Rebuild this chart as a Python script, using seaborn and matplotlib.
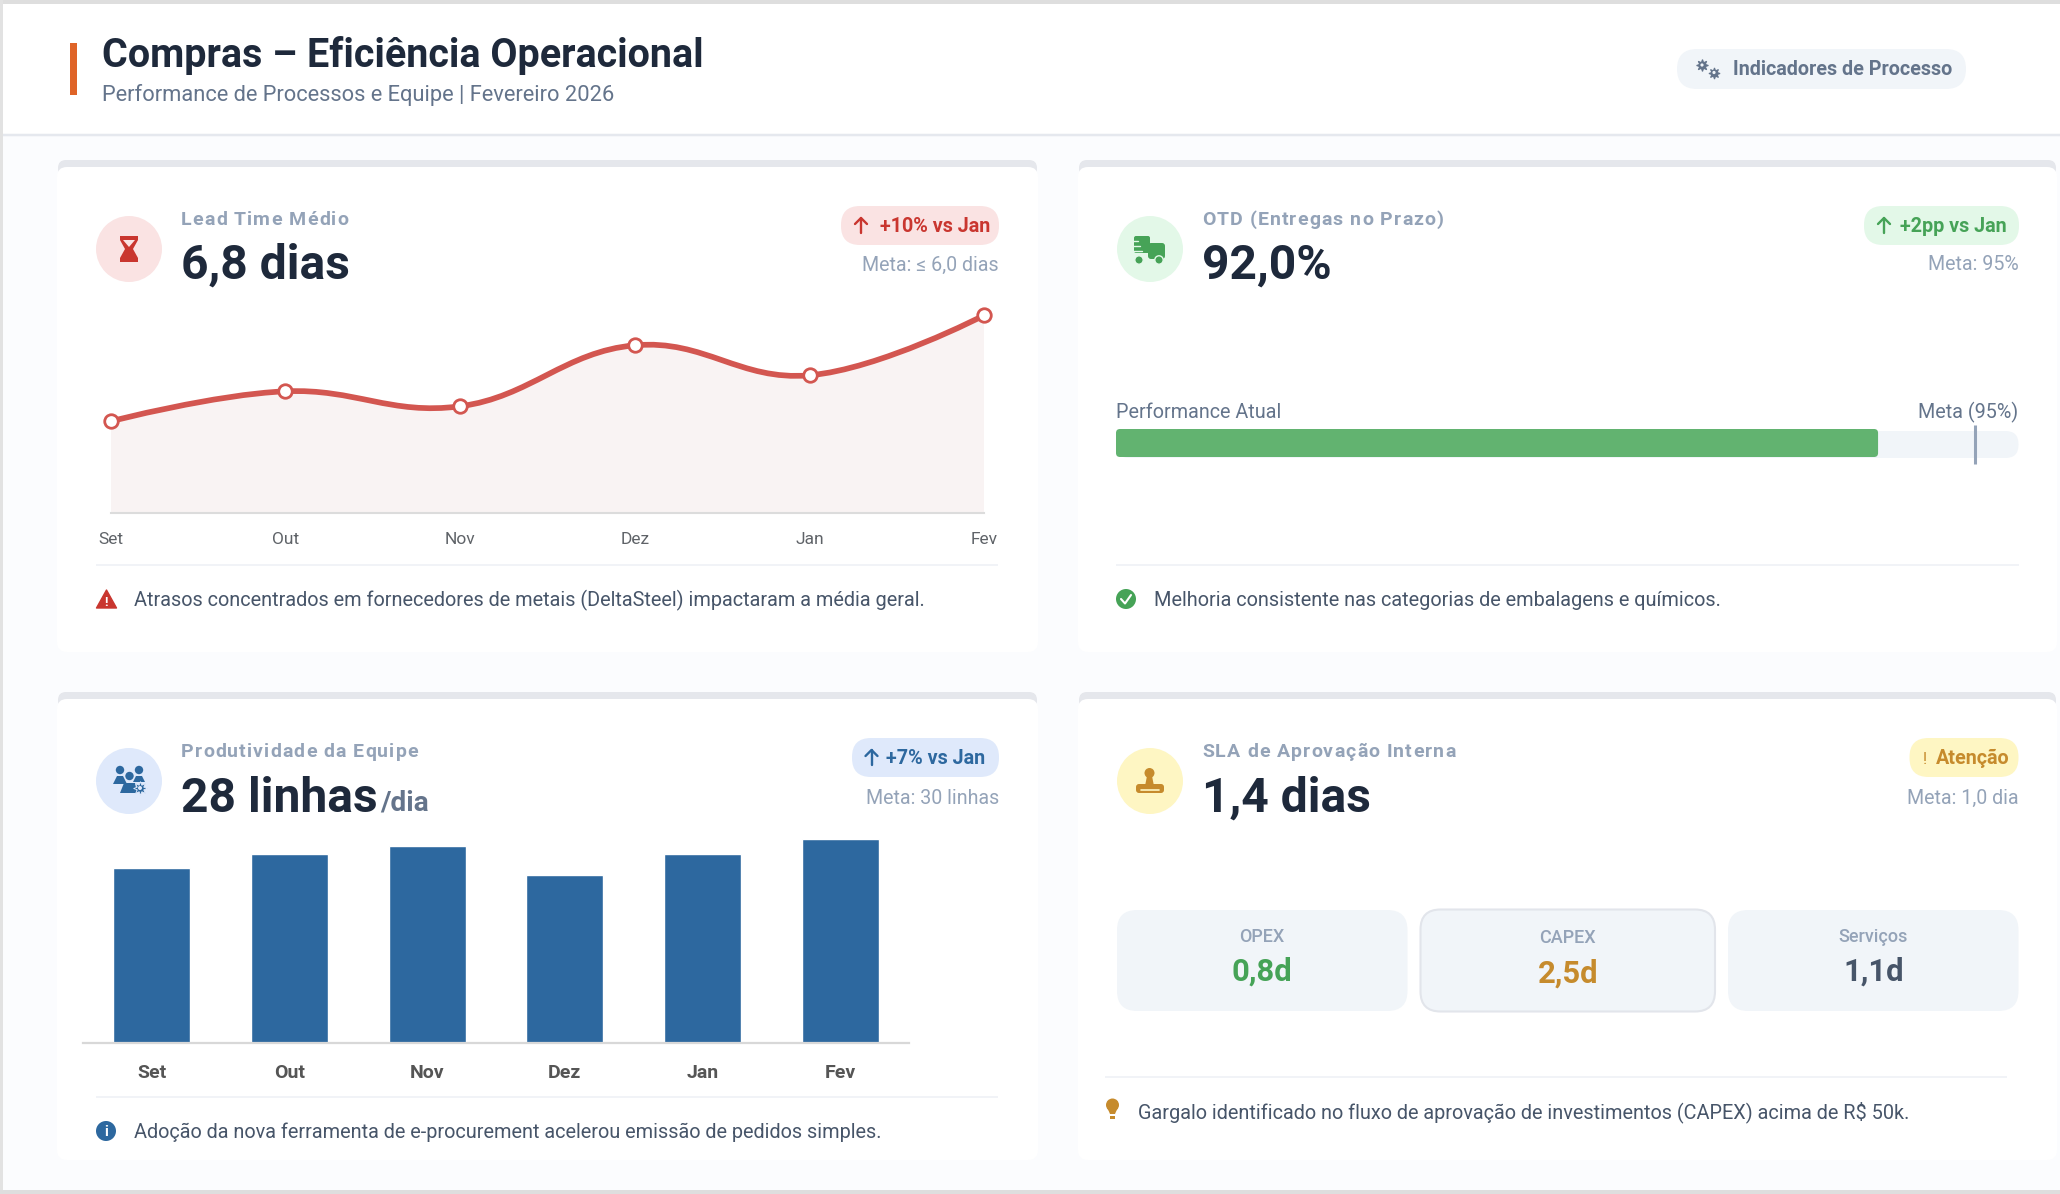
import matplotlib
matplotlib.use("Agg")
import matplotlib.pyplot as plt
import seaborn as sns
from matplotlib.patches import Circle, FancyBboxPatch, PathPatch, Polygon, Rectangle
from matplotlib.path import Path

# --- Data ---
meses = ["Set", "Out", "Nov", "Dez", "Jan", "Fev"]
lead_time = [5.74, 6.04, 5.89, 6.5, 6.2, 6.8]
produtividade = [24, 26, 27, 23, 26, 28]
otd_barra = 84.3
otd_meta = 95
sla_categorias = ["OPEX", "CAPEX", "Serviços"]
sla_valores = ["0,8d", "2,5d", "1,1d"]

W, H = 2060, 1194
DARK = "#1e293b"
SLATE = "#64748b"
MUTED = "#94a3b8"
BODY = "#475569"
PANEL = "#f1f5f9"
RED = "#c9362f"
GREEN = "#46a357"
BLUE = "#2d689f"
AMBER = "#c68b2d"

sns.set_theme(style="white")
plt.rcParams["font.family"] = ["Roboto", "DejaVu Sans"]

fig = plt.figure(figsize=(W / 100, H / 100), dpi=100, facecolor="#fbfcfe")
page = fig.add_axes([0, 0, 1, 1])
page.set_xlim(0, W)
page.set_ylim(H, 0)
page.axis("off")
renderer = fig.canvas.get_renderer()


def px_axes(x0, y0, x1, y1):
    ax = fig.add_axes([x0 / W, 1 - y1 / H, (x1 - x0) / W, (y1 - y0) / H])
    ax.patch.set_alpha(0)
    return ax


def txt(x, y, s, size, color=DARK, weight="normal", ha="left", family=None):
    # size is given in pixels, baseline at y
    return page.text(x, y, s, fontsize=size * 0.72, color=color, fontweight=weight,
                     ha=ha, va="baseline", family=family or plt.rcParams["font.family"])


def spaced(x, y, s, size, color, weight="bold", spacing=1.1):
    # matplotlib has no letter-spacing, so the card labels go char by char
    probe = txt(0, 0, ".", size, color, weight)
    dot = probe.get_window_extent(renderer).width
    for i, ch in enumerate(s):
        probe.set_text(s[:i] + ".")
        adv = probe.get_window_extent(renderer).width - dot if i else 0
        txt(x + adv + i * spacing, y, ch, size, color, weight)
    probe.remove()


def rbox(x0, y0, x1, y1, r, color, ec="none", lw=0, z=1):
    p = FancyBboxPatch((x0 + r, y0 + r), x1 - x0 - 2 * r, y1 - y0 - 2 * r,
                       boxstyle=f"round,pad={r},rounding_size={r}",
                       fc=color, ec=ec, lw=lw, zorder=z)
    page.add_patch(p)
    return p


def rule(x0, x1, y, color="#f1f3f7", lw=2):
    page.plot([x0, x1], [y, y], color=color, lw=lw * 0.72, solid_capstyle="butt")


def up_arrow(x, y0, y1, color):
    page.plot([x, x], [y0, y1], color=color, lw=1.7, solid_capstyle="round", zorder=4)
    page.plot([x - 6, x, x + 6], [y0 + 6, y0, y0 + 6], color=color, lw=1.7,
              solid_capstyle="round", zorder=4)


def card(x0, y0, x1, y1):
    rbox(x0, y0, x1, y0 + 24, 8, "#e5e7ec", z=1)
    rbox(x0 - 1, y0 + 7, x1 + 1, y1, 10, "white", z=1.5)


def kpi_head(x_ic, dy, bg, label, value, nudge=0):
    page.add_patch(Circle((x_ic, 249 + dy), 33, fc=bg, ec="none", zorder=2))
    spaced(x_ic + 52, 225 + dy, label, 19.5, MUTED)
    return txt(x_ic + 52, 278.5 + dy + nudge, value, 48, DARK, "bold")


def badge(x0, x1, dy, bg, color, label, x_text, meta, nudge=0):
    rbox(x0, 206 + dy, x1, 245 + dy, 19, bg, z=2)
    txt(x_text, 232 + dy, label, 19.8, color, "bold").set_zorder(4)
    txt(x1, 270.5 + dy + nudge, meta, 19.6, MUTED, ha="right")


# --- Page frame and header ---
page.add_patch(Rectangle((0, 0), W, 135, fc="white", ec="none", zorder=0))
page.add_patch(Rectangle((0, 0), W, 3.5, fc="#dedede", ec="none", zorder=5))
page.add_patch(Rectangle((0, 0), 3, H, fc="#e2e2e2", ec="none", zorder=5))
page.add_patch(Rectangle((0, H - 4), W, 4, fc="#dedede", ec="none", zorder=5))
rule(0, W, 135, "#e5e8ee", 2.5)
page.add_patch(Rectangle((70, 43), 7, 52, fc="#df6428", ec="none"))
txt(102, 66.8, "Compras – Eficiência Operacional", 39.5, DARK, "bold")
txt(102, 101.5, "Performance de Processos e Equipe | Fevereiro 2026", 21.9, SLATE)
rbox(1677, 49, 1966, 89, 20, PANEL)
txt(1733, 75, "Indicadores de Processo", 19.8, SLATE, "bold")
for gx, gy, ms in [(1702, 65, 8.5), (1714, 72.5, 8)]:
    page.plot(gx, gy, marker=(8, 1, 0), ms=ms, color=SLATE, mew=0.8, zorder=3)
    page.add_patch(Circle((gx, gy), 1.6, fc=PANEL, ec="none", zorder=4))

# --- Cards ---
card(58, 160, 1037, 652)
card(1079, 160, 2056, 652)
card(58, 692, 1037, 1160)
card(1079, 692, 2056, 1160)

# --- Lead time ---
kpi_head(129, 0, "#fae3e3", "Lead Time Médio", "6,8 dias")
badge(841, 999, 0, "#fae3e3", RED, "+10% vs Jan", 880, "Meta: ≤ 6,0 dias")
up_arrow(861, 218, 233, RED)
page.add_patch(Polygon([(120, 236), (138, 236), (138, 240), (133, 249), (138, 258), (138, 262),
                        (120, 262), (120, 258), (125, 249), (120, 240)], fc=RED, ec="none", zorder=3))
page.add_patch(Polygon([(123, 240), (135, 240), (129, 247)], fc="#fae3e3", ec="none", zorder=4))

y_min = 4.823
ax1 = px_axes(110.7, 296, 984.2, 513)
ax1.set_xlim(0, 5)
ax1.set_ylim(y_min, 6.993)
xs = list(range(len(lead_time)))

# smooth curve through the monthly values, bezier control points like tension 0.4
verts = [(xs[0], lead_time[0])]
codes = [Path.MOVETO]
for i in range(len(xs) - 1):
    prev_y = lead_time[max(i - 1, 0)]
    next_y = lead_time[min(i + 2, len(xs) - 1)]
    t1 = 0.2 if i > 0 else 0
    t2 = 0.2 if i + 2 < len(xs) else 0
    verts += [(xs[i] + t1 * (xs[i + 1] - xs[max(i - 1, 0)]), lead_time[i] + t1 * (lead_time[i + 1] - prev_y)),
              (xs[i + 1] - t2 * (xs[min(i + 2, len(xs) - 1)] - xs[i]), lead_time[i + 1] - t2 * (next_y - lead_time[i])),
              (xs[i + 1], lead_time[i + 1])]
    codes += [Path.CURVE4] * 3
area = verts + [(xs[-1], y_min), (xs[0], y_min), verts[0]]
ax1.add_patch(PathPatch(Path(area, codes + [Path.LINETO, Path.LINETO, Path.CLOSEPOLY]),
                        fc="#f9f3f3", ec="none", zorder=1))
ax1.add_patch(PathPatch(Path(verts, codes), fc="none", ec="#d35650", lw=4.1, zorder=2,
                        capstyle="round"))
sns.scatterplot(x=xs, y=lead_time, ax=ax1, s=95, color="white", edgecolor="#d35650",
                linewidth=2.0, zorder=3, clip_on=False, legend=False)
sns.despine(ax=ax1, left=True)
ax1.spines["bottom"].set_color("#dcdcdc")
ax1.spines["bottom"].set_linewidth(1.5)
ax1.set_yticks([])
ax1.set_xticks(xs, meses)
ax1.tick_params(axis="x", length=0, pad=14, labelsize=12.5, labelcolor="#5f6368")
ax1.set_xlabel("")
ax1.set_ylabel("")

rule(96, 998, 565)
page.add_patch(Polygon([(106.5, 590), (116.5, 608), (96.5, 608)], fc=RED, ec=RED, lw=1, joinstyle="round", zorder=3))
page.text(106.5, 606.5, "!", color="white", fontsize=9.5, fontweight="bold", ha="center", va="baseline", zorder=4)
txt(133.5, 606.5, "Atrasos concentrados em fornecedores de metais (DeltaSteel) impactaram a média geral.", 19.85, BODY)

# --- OTD ---
kpi_head(1150, 0, "#e3f8e8", "OTD (Entregas no Prazo)", "92,0%")
badge(1864, 2019, 0, "#e3f8e8", GREEN, "+2pp vs Jan", 1900.5, "Meta: 95%")
up_arrow(1884, 218, 233, GREEN)
rbox(1134, 236, 1150, 253, 2, GREEN, z=3)
rbox(1148, 243, 1165, 259, 3, GREEN, z=3)
for wx in (1139, 1159):
    page.add_patch(Circle((wx, 260), 4.2, fc=GREEN, ec="#e3f8e8", lw=1, zorder=4))
for ly, lx in [(241, 1129), (246, 1131), (251, 1133)]:
    page.plot([lx, lx + 9], [ly, ly], color="#e3f8e8", lw=1, zorder=4)

txt(1116, 418, "Performance Atual", 19.8, SLATE)
txt(2018.5, 418, "Meta (95%)", 19.8, SLATE, ha="right")
rbox(1116, 431, 2018.5, 458, 13, PANEL, z=2)
ax2 = px_axes(1116, 429, 2020, 457)
sns.barplot(x=[otd_barra], y=["OTD"], ax=ax2, color="#62b370", width=1, saturation=1)
ax2.set_xlim(0, 100)
ax2.axis("off")
# square bar from seaborn gets small rounded corners at the same scale position
bar = ax2.patches[0]
bar_right = ax2.transData.transform((bar.get_x() + bar.get_width(), 0))[0]
bar.set_visible(False)
rbox(1116, 429, bar_right, 457, 4, "#62b370", z=3)
meta_x = ax2.transData.transform((otd_meta, 0))[0]
page.plot([meta_x, meta_x], [425, 464], color=MUTED, lw=2.2, solid_capstyle="butt", zorder=4)

rule(1116, 2019, 565)
page.add_patch(Circle((1126, 599), 10, fc=GREEN, ec="none", zorder=3))
page.plot([1121, 1125, 1131], [599, 603.5, 595], color="white", lw=1.5, zorder=4)
txt(1154, 606.5, "Melhoria consistente nas categorias de embalagens e químicos.", 19.85, BODY)

# --- Produtividade ---
d3 = 532
kpi_head(129, d3, "#dfe9fb", "Produtividade da Equipe", "28 linhas", nudge=1)
txt(380, 811, "/dia", 28, SLATE, "bold")
badge(852, 999, d3, "#dfe9fb", BLUE, "+7% vs Jan", 886, "Meta: 30 linhas", nudge=1)
up_arrow(871.5, 218 + d3, 233 + d3, BLUE)
for cx, cy in [(120, 770), (139, 770), (129.5, 776)]:
    page.add_patch(Circle((cx, cy), 4.2, fc=BLUE, ec="none", zorder=3))
page.add_patch(Polygon([(113, 784), (117, 776), (123, 776), (127, 784)], fc=BLUE, ec="none", zorder=3))
page.add_patch(Polygon([(133, 782), (136, 776), (142, 776), (145, 782)], fc=BLUE, ec="none", zorder=3))
page.add_patch(Polygon([(120, 793), (124, 783), (135, 783), (137, 793)], fc=BLUE, ec="none", zorder=3))
page.plot(140, 788, marker=(8, 1, 0), ms=10, color=BLUE, mec="#dfe9fb", mew=0.6, zorder=4)
page.add_patch(Circle((140, 788), 2, fc="#dfe9fb", ec="none", zorder=5))

ax3 = px_axes(83, 824.4, 909, 1043)
sns.barplot(x=meses, y=produtividade, ax=ax3, color=BLUE, width=0.56, saturation=1)
ax3.set_ylim(0, 30)
ax3.set_xlim(-0.5, 5.5)
sns.despine(ax=ax3, left=True)
ax3.spines["bottom"].set_color("#d8d8d8")
ax3.spines["bottom"].set_linewidth(1.6)
ax3.set_yticks([])
ax3.tick_params(axis="x", length=0, pad=15, labelsize=14)
for lab in ax3.get_xticklabels():
    lab.set_color("#555555")
    lab.set_fontweight("bold")
ax3.set_xlabel("")
ax3.set_ylabel("")

rule(96, 998, 1097)
page.add_patch(Circle((106, 1131), 10, fc=BLUE, ec="none", zorder=3))
page.text(106, 1136.5, "i", color="white", fontsize=10.5, fontweight="bold", ha="center", va="baseline", zorder=4)
txt(134, 1137.5, "Adoção da nova ferramenta de e-procurement acelerou emissão de pedidos simples.", 19.85, BODY)

# --- SLA ---
kpi_head(1150, d3, "#fef6c3", "SLA de Aprovação Interna", "1,4 dias", nudge=1)
badge(1909.5, 2018.5, d3, "#fef6c3", AMBER, "Atenção", 1936, "Meta: 1,0 dia", nudge=1)
txt(1923, 232 + d3, "!", 16, AMBER).set_zorder(4)
page.add_patch(Circle((1149.5, 773), 5, fc=AMBER, ec="none", zorder=3))
page.add_patch(Polygon([(1147, 776), (1152, 776), (1154, 786), (1145, 786)], fc=AMBER, ec="none", zorder=3))
rbox(1136, 784, 1164, 793, 3, AMBER, z=3)
page.plot([1141, 1159], [789.5, 789.5], color="#fef6c3", lw=1.2, zorder=4)

box_x = [(1117, 1407.5), (1420.5, 1715), (1728, 2018.5)]
box_y = [(910, 1011), (909.5, 1011.5), (910, 1011)]
base_lab = [942, 943, 942]
base_val = [980.5, 983, 980.5]
val_colors = [GREEN, AMBER, BODY]
for i, cat in enumerate(sla_categorias):
    (x0, x1), (y0, y1) = box_x[i], box_y[i]
    if cat == "CAPEX":
        rbox(x0, y0, x1, y1, 20, PANEL, ec="#e2e5eb", lw=1.5, z=2)
    else:
        rbox(x0, y0, x1, y1, 20, PANEL, z=2)
    txt((x0 + x1) / 2, base_lab[i], cat, 18, MUTED, ha="center", weight="medium")
    txt((x0 + x1) / 2, base_val[i], sla_valores[i], 31, val_colors[i], "bold", ha="center")

rule(1105, 2007, 1077)
page.add_patch(Circle((1112.5, 1105), 6.5, fc=AMBER, ec="none", zorder=3))
page.add_patch(Polygon([(1107, 1107), (1118, 1107), (1115, 1114), (1110, 1114)], fc=AMBER, ec="none", zorder=3))
page.add_patch(Rectangle((1110, 1115.5), 5, 3, fc=AMBER, ec="none", zorder=3))
txt(1138, 1118, "Gargalo identificado no fluxo de aprovação de investimentos (CAPEX) acima de R$ 50k.", 19.85, BODY)

plt.savefig("out.png", dpi=100, facecolor=fig.get_facecolor())
